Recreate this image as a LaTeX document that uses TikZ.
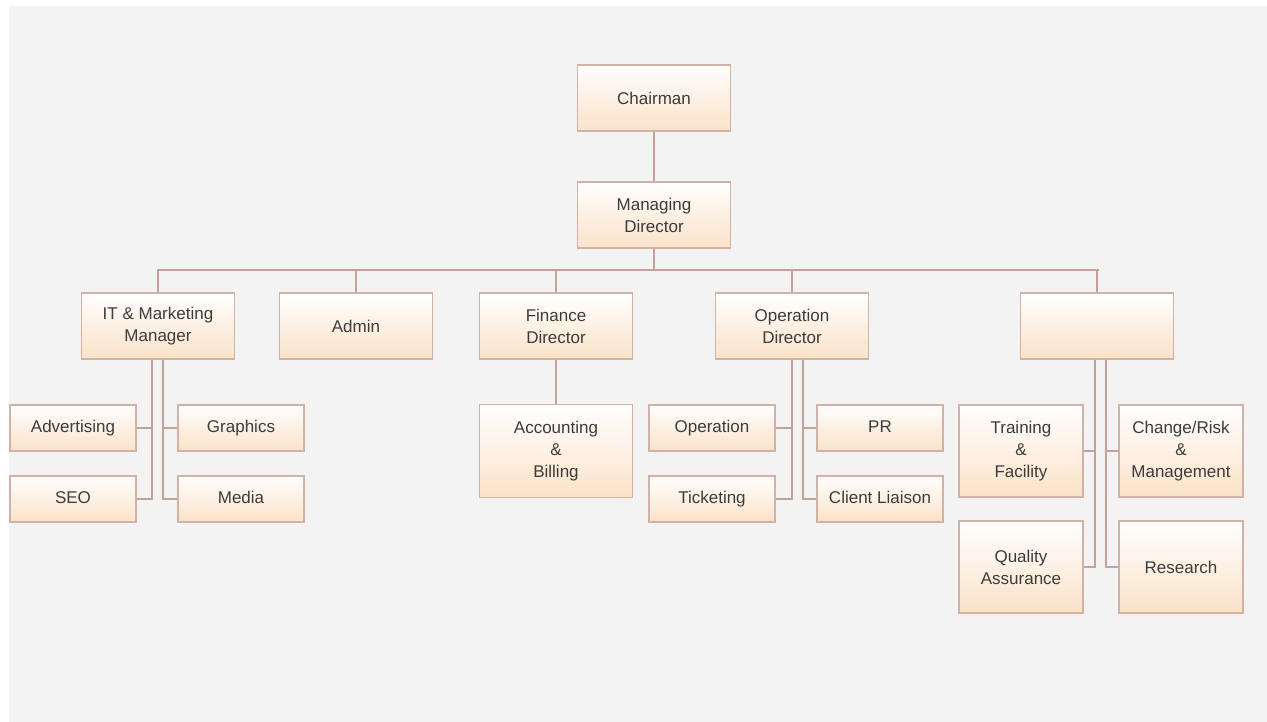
\documentclass[tikz,border=0pt]{standalone}
\usepackage{fontspec}
\setmainfont{Liberation Sans}
\definecolor{PageClr}{RGB}{243,243,243}
\definecolor{BoxLine}{RGB}{210,178,166}
\definecolor{BoxFill}{RGB}{250,226,200}
\definecolor{LinkClr}{RGB}{196,162,154}
\definecolor{TextClr}{RGB}{60,60,60}

\begin{document}
\begin{tikzpicture}[x=1pt,y=-1pt,
  post/.style={draw=BoxLine,line width=1.2pt,top color=white,bottom color=BoxFill,
    text=TextClr,font=\fontsize{17}{22}\selectfont,align=center,inner sep=0pt,
    minimum width=153pt,minimum height=66pt},
  unit/.style={post,minimum width=126pt,minimum height=46pt,
    text height=12pt,text depth=4pt},
  team/.style={post,minimum width=124pt,minimum height=92pt},
  link/.style={draw=LinkClr,line width=1.2pt}]

\useasboundingbox (0,0) rectangle (1267,722);
\fill[white] (0,0) rectangle (1267,722);
\fill[PageClr] (9,6) rectangle (1267,722);

% top of the chart
\node[post] (chair) at (654,98) {Chairman};
\node[post] (md) at (654,215) {Managing\\Director};

\node[post] (itm) at (158,326) {IT \& Marketing\\Manager};
\node[post] (admin) at (356,326) {Admin};
\node[post] (fin) at (556,326) {Finance\\Director};
\node[post] (ops) at (792,326) {Operation\\Director};
\node[post] (extra) at (1097,326) {};

% units
\node[unit] (adv) at (73,428) {Advertising};
\node[unit] (gfx) at (241,428) {Graphics};
\node[unit] (seo) at (73,499) {SEO};
\node[unit] (media) at (241,499) {Media};

\node[post,minimum height=93pt] (acct) at (556,451) {Accounting\\\&\\Billing};

\node[unit] (oper) at (712,428) {Operation};
\node[unit] (pr) at (880,428) {PR};
\node[unit] (tick) at (712,499) {Ticketing};
\node[unit] (client) at (880,499) {Client Liaison};

\node[team] (train) at (1021,451) {Training\\\&\\Facility};
\node[team] (change) at (1181,451) {Change/Risk\\\&\\Management};
\node[team] (qa) at (1021,567) {Quality\\Assurance};
\node[team] (research) at (1181,567) {Research};

% links
\coordinate (busL) at (157,270);
\coordinate (busR) at (1099,270);
\draw[link] (chair) -- (md);
\draw[link] (md) -- (md |- busL);
\draw[link] (busL) -- (busR);
\foreach \n in {itm,admin,fin,ops,extra}
  \draw[link] (\n) -- (\n |- busL);
\draw[link] (fin) -- (acct);

\coordinate (itL) at ([xshift=-6pt]itm.south);
\coordinate (itR) at ([xshift=5pt]itm.south);
\draw[link] (itL) |- (seo);
\draw[link] (adv) -- (adv -| itL);
\draw[link] (itR) |- (media);
\draw[link] (gfx) -- (gfx -| itR);

\coordinate (opL) at ([xshift=0pt]ops.south);
\coordinate (opR) at ([xshift=11pt]ops.south);
\draw[link] (opL) |- (tick);
\draw[link] (oper) -- (oper -| opL);
\draw[link] (opR) |- (client);
\draw[link] (pr) -- (pr -| opR);

\coordinate (exL) at ([xshift=-2pt]extra.south);
\coordinate (exR) at ([xshift=9pt]extra.south);
\draw[link] (exL) |- (qa);
\draw[link] (train) -- (train -| exL);
\draw[link] (exR) |- (research);
\draw[link] (change) -- (change -| exR);

\end{tikzpicture}
\end{document}
